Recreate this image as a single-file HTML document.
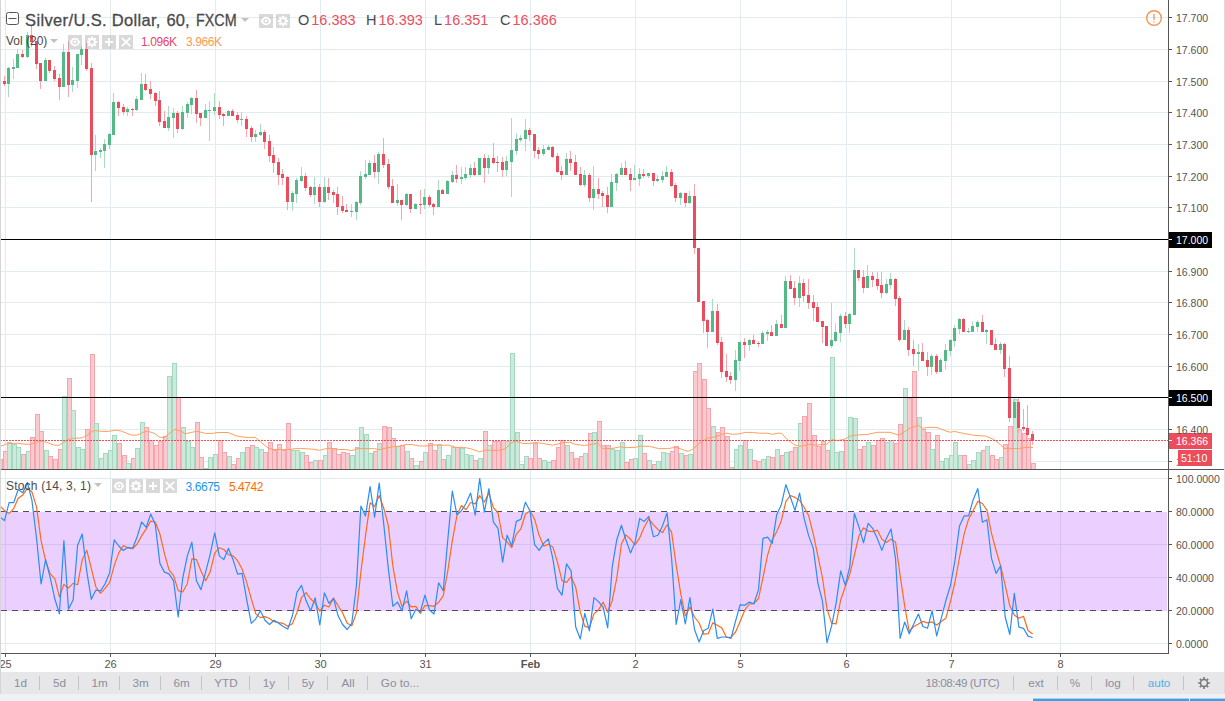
<!DOCTYPE html>
<html><head><meta charset="utf-8"><title>Silver/U.S. Dollar</title>
<style>
html,body{margin:0;padding:0;background:#fff;}
body{width:1225px;height:701px;position:relative;overflow:hidden;font-family:"Liberation Sans",sans-serif;}
.t{position:absolute;white-space:nowrap;line-height:1;}
.ax{font-size:10.5px;color:#555;left:1176px;}
.axw{font-size:10.5px;color:#fff;left:1176px;}
.tm{font-size:11px;color:#555;transform:translateX(-50%);top:659px;}
.tb{font-size:11.7px;color:#8b8e9c;top:676.6px;transform:translateX(-50%);}
.ib{position:absolute;width:14px;height:14px;background:rgba(150,150,150,0.36);}
</style></head><body>

<svg width="1225" height="701" viewBox="0 0 1225 701" style="position:absolute;left:0;top:0" shape-rendering="crispEdges">
<rect x="0" y="0" width="1225" height="701" fill="#fff"/>
<path d="M0 17.5H1168M0 49.5H1168M0 81.5H1168M0 112.5H1168M0 144.5H1168M0 176.5H1168M0 207.5H1168M0 239.5H1168M0 271.5H1168M0 302.5H1168M0 334.5H1168M0 366.5H1168M0 397.5H1168M0 429.5H1168M0 461.5H1168M0 478.5H1168M0 544.5H1168M0 577.5H1168M0 643.5H1168M5.5 0V469M5.5 470V653M110.5 0V469M110.5 470V653M215.5 0V469M215.5 470V653M320.5 0V469M320.5 470V653M425.5 0V469M425.5 470V653M530.5 0V469M530.5 470V653M635.5 0V469M635.5 470V653M740.5 0V469M740.5 470V653M846.5 0V469M846.5 470V653M951.5 0V469M951.5 470V653M1060.5 0V469M1060.5 470V653" stroke="#e1ecf2" stroke-width="1" fill="none"/>
<rect x="0" y="512" width="1167" height="99" fill="#9915ff" fill-opacity="0.2"/>
<path d="M1 459H3V469H1ZM3 451H8V469H3Z" fill="#f9cbcf"/><path d="M1 459.5H2.5V469M3.5 469V451.5H7.5V469" stroke="#f4a5ad" fill="none"/>
<path d="M7 442H12V469H7ZM12 444H17V469H12ZM16 447H21V469H16Z" fill="#cde9dc"/><path d="M7.5 469V442.5H11.5V469M12.5 469V444.5H16.5V469M16.5 469V447.5H20.5V469" stroke="#a4d9bf" fill="none"/>
<path d="M21 454H26V469H21Z" fill="#f9cbcf"/><path d="M21.5 469V454.5H25.5V469" stroke="#f4a5ad" fill="none"/>
<path d="M26 451H31V469H26Z" fill="#cde9dc"/><path d="M26.5 469V451.5H30.5V469" stroke="#a4d9bf" fill="none"/>
<path d="M30 437H35V469H30ZM35 414H40V469H35ZM39 431H44V469H39Z" fill="#f9cbcf"/><path d="M30.5 469V437.5H34.5V469M35.5 469V414.5H39.5V469M39.5 469V431.5H43.5V469" stroke="#f4a5ad" fill="none"/>
<path d="M44 450H49V469H44Z" fill="#cde9dc"/><path d="M44.5 469V450.5H48.5V469" stroke="#a4d9bf" fill="none"/>
<path d="M48 456H53V469H48ZM53 459H58V469H53ZM58 449H63V469H58Z" fill="#f9cbcf"/><path d="M48.5 469V456.5H52.5V469M53.5 469V459.5H57.5V469M58.5 469V449.5H62.5V469" stroke="#f4a5ad" fill="none"/>
<path d="M62 396H67V469H62Z" fill="#cde9dc"/><path d="M62.5 469V396.5H66.5V469" stroke="#a4d9bf" fill="none"/>
<path d="M67 378H72V469H67Z" fill="#f9cbcf"/><path d="M67.5 469V378.5H71.5V469" stroke="#f4a5ad" fill="none"/>
<path d="M71 410H76V469H71ZM76 447H81V469H76ZM80 449H85V469H80Z" fill="#cde9dc"/><path d="M71.5 469V410.5H75.5V469M76.5 469V447.5H80.5V469M80.5 469V449.5H84.5V469" stroke="#a4d9bf" fill="none"/>
<path d="M85 429H90V469H85ZM90 354H95V469H90Z" fill="#f9cbcf"/><path d="M85.5 469V429.5H89.5V469M90.5 469V354.5H94.5V469" stroke="#f4a5ad" fill="none"/>
<path d="M94 423H99V469H94ZM99 458H104V469H99ZM103 453H108V469H103ZM108 450H113V469H108ZM112 435H117V469H112Z" fill="#cde9dc"/><path d="M94.5 469V423.5H98.5V469M99.5 469V458.5H103.5V469M103.5 469V453.5H107.5V469M108.5 469V450.5H112.5V469M112.5 469V435.5H116.5V469" stroke="#a4d9bf" fill="none"/>
<path d="M117 443H122V469H117ZM122 455H127V469H122Z" fill="#f9cbcf"/><path d="M117.5 469V443.5H121.5V469M122.5 469V455.5H126.5V469" stroke="#f4a5ad" fill="none"/>
<path d="M126 463H131V469H126Z" fill="#cde9dc"/><path d="M126.5 469V463.5H130.5V469" stroke="#a4d9bf" fill="none"/>
<path d="M131 458H136V469H131Z" fill="#f9cbcf"/><path d="M131.5 469V458.5H135.5V469" stroke="#f4a5ad" fill="none"/>
<path d="M135 448H140V469H135ZM140 422H145V469H140Z" fill="#cde9dc"/><path d="M135.5 469V448.5H139.5V469M140.5 469V422.5H144.5V469" stroke="#a4d9bf" fill="none"/>
<path d="M144 427H149V469H144ZM149 440H154V469H149ZM154 445H159V469H154ZM158 441H163V469H158ZM163 436H168V469H163Z" fill="#f9cbcf"/><path d="M144.5 469V427.5H148.5V469M149.5 469V440.5H153.5V469M154.5 469V445.5H158.5V469M158.5 469V441.5H162.5V469M163.5 469V436.5H167.5V469" stroke="#f4a5ad" fill="none"/>
<path d="M167 376H172V469H167ZM172 363H177V469H172Z" fill="#cde9dc"/><path d="M167.5 469V376.5H171.5V469M172.5 469V363.5H176.5V469" stroke="#a4d9bf" fill="none"/>
<path d="M176 397H181V469H176Z" fill="#f9cbcf"/><path d="M176.5 469V397.5H180.5V469" stroke="#f4a5ad" fill="none"/>
<path d="M181 427H186V469H181ZM186 441H191V469H186ZM190 447H195V469H190Z" fill="#cde9dc"/><path d="M181.5 469V427.5H185.5V469M186.5 469V441.5H190.5V469M190.5 469V447.5H194.5V469" stroke="#a4d9bf" fill="none"/>
<path d="M195 422H200V469H195ZM199 457H204V469H199Z" fill="#f9cbcf"/><path d="M195.5 469V422.5H199.5V469M199.5 469V457.5H203.5V469" stroke="#f4a5ad" fill="none"/>
<path d="M204 468H209V469H204ZM208 457H213V469H208ZM213 454H218V469H213Z" fill="#cde9dc"/><path d="M204.5 469V468.5H208.5V469M208.5 469V457.5H212.5V469M213.5 469V454.5H217.5V469" stroke="#a4d9bf" fill="none"/>
<path d="M218 440H223V469H218ZM222 452H227V469H222Z" fill="#f9cbcf"/><path d="M218.5 469V440.5H222.5V469M222.5 469V452.5H226.5V469" stroke="#f4a5ad" fill="none"/>
<path d="M227 456H232V469H227Z" fill="#cde9dc"/><path d="M227.5 469V456.5H231.5V469" stroke="#a4d9bf" fill="none"/>
<path d="M231 464H236V469H231ZM236 458H241V469H236Z" fill="#f9cbcf"/><path d="M231.5 469V464.5H235.5V469M236.5 469V458.5H240.5V469" stroke="#f4a5ad" fill="none"/>
<path d="M240 452H245V469H240Z" fill="#cde9dc"/><path d="M240.5 469V452.5H244.5V469" stroke="#a4d9bf" fill="none"/>
<path d="M245 447H250V469H245ZM250 445H255V469H250Z" fill="#f9cbcf"/><path d="M245.5 469V447.5H249.5V469M250.5 469V445.5H254.5V469" stroke="#f4a5ad" fill="none"/>
<path d="M254 447H259V469H254ZM259 449H264V469H259Z" fill="#cde9dc"/><path d="M254.5 469V447.5H258.5V469M259.5 469V449.5H263.5V469" stroke="#a4d9bf" fill="none"/>
<path d="M263 452H268V469H263ZM268 442H273V469H268ZM272 450H277V469H272ZM277 444H282V469H277ZM281 450H286V469H281ZM286 423H291V469H286Z" fill="#f9cbcf"/><path d="M263.5 469V452.5H267.5V469M268.5 469V442.5H272.5V469M272.5 469V450.5H276.5V469M277.5 469V444.5H281.5V469M281.5 469V450.5H285.5V469M286.5 469V423.5H290.5V469" stroke="#f4a5ad" fill="none"/>
<path d="M291 450H296V469H291ZM295 450H300V469H295ZM300 452H305V469H300Z" fill="#cde9dc"/><path d="M291.5 469V450.5H295.5V469M295.5 469V450.5H299.5V469M300.5 469V452.5H304.5V469" stroke="#a4d9bf" fill="none"/>
<path d="M304 455H309V469H304ZM309 462H314V469H309Z" fill="#f9cbcf"/><path d="M304.5 469V455.5H308.5V469M309.5 469V462.5H313.5V469" stroke="#f4a5ad" fill="none"/>
<path d="M313 460H318V469H313Z" fill="#cde9dc"/><path d="M313.5 469V460.5H317.5V469" stroke="#a4d9bf" fill="none"/>
<path d="M318 460H323V469H318Z" fill="#f9cbcf"/><path d="M318.5 469V460.5H322.5V469" stroke="#f4a5ad" fill="none"/>
<path d="M323 455H328V469H323Z" fill="#cde9dc"/><path d="M323.5 469V455.5H327.5V469" stroke="#a4d9bf" fill="none"/>
<path d="M327 442H332V469H327ZM332 448H337V469H332ZM336 454H341V469H336ZM341 452H346V469H341ZM345 453H350V469H345Z" fill="#f9cbcf"/><path d="M327.5 469V442.5H331.5V469M332.5 469V448.5H336.5V469M336.5 469V454.5H340.5V469M341.5 469V452.5H345.5V469M345.5 469V453.5H349.5V469" stroke="#f4a5ad" fill="none"/>
<path d="M350 455H355V469H350ZM355 447H360V469H355ZM359 427H364V469H359ZM364 434H369V469H364ZM368 453H373V469H368Z" fill="#cde9dc"/><path d="M350.5 469V455.5H354.5V469M355.5 469V447.5H359.5V469M359.5 469V427.5H363.5V469M364.5 469V434.5H368.5V469M368.5 469V453.5H372.5V469" stroke="#a4d9bf" fill="none"/>
<path d="M373 451H378V469H373Z" fill="#f9cbcf"/><path d="M373.5 469V451.5H377.5V469" stroke="#f4a5ad" fill="none"/>
<path d="M377 443H382V469H377Z" fill="#cde9dc"/><path d="M377.5 469V443.5H381.5V469" stroke="#a4d9bf" fill="none"/>
<path d="M382 426H387V469H382ZM387 427H392V469H387ZM391 438H396V469H391Z" fill="#f9cbcf"/><path d="M382.5 469V426.5H386.5V469M387.5 469V427.5H391.5V469M391.5 469V438.5H395.5V469" stroke="#f4a5ad" fill="none"/>
<path d="M396 446H401V469H396Z" fill="#cde9dc"/><path d="M396.5 469V446.5H400.5V469" stroke="#a4d9bf" fill="none"/>
<path d="M400 445H405V469H400Z" fill="#f9cbcf"/><path d="M400.5 469V445.5H404.5V469" stroke="#f4a5ad" fill="none"/>
<path d="M405 451H410V469H405Z" fill="#cde9dc"/><path d="M405.5 469V451.5H409.5V469" stroke="#a4d9bf" fill="none"/>
<path d="M409 458H414V469H409Z" fill="#f9cbcf"/><path d="M409.5 469V458.5H413.5V469" stroke="#f4a5ad" fill="none"/>
<path d="M414 465H419V469H414Z" fill="#cde9dc"/><path d="M414.5 469V465.5H418.5V469" stroke="#a4d9bf" fill="none"/>
<path d="M419 461H424V469H419Z" fill="#f9cbcf"/><path d="M419.5 469V461.5H423.5V469" stroke="#f4a5ad" fill="none"/>
<path d="M423 452H428V469H423Z" fill="#cde9dc"/><path d="M423.5 469V452.5H427.5V469" stroke="#a4d9bf" fill="none"/>
<path d="M428 443H433V469H428ZM432 450H437V469H432Z" fill="#f9cbcf"/><path d="M428.5 469V443.5H432.5V469M432.5 469V450.5H436.5V469" stroke="#f4a5ad" fill="none"/>
<path d="M437 444H442V469H437Z" fill="#cde9dc"/><path d="M437.5 469V444.5H441.5V469" stroke="#a4d9bf" fill="none"/>
<path d="M441 459H446V469H441Z" fill="#f9cbcf"/><path d="M441.5 469V459.5H445.5V469" stroke="#f4a5ad" fill="none"/>
<path d="M446 455H451V469H446ZM451 447H456V469H451Z" fill="#cde9dc"/><path d="M446.5 469V455.5H450.5V469M451.5 469V447.5H455.5V469" stroke="#a4d9bf" fill="none"/>
<path d="M455 447H460V469H455Z" fill="#f9cbcf"/><path d="M455.5 469V447.5H459.5V469" stroke="#f4a5ad" fill="none"/>
<path d="M460 448H465V469H460ZM464 454H469V469H464ZM469 455H474V469H469Z" fill="#cde9dc"/><path d="M460.5 469V448.5H464.5V469M464.5 469V454.5H468.5V469M469.5 469V455.5H473.5V469" stroke="#a4d9bf" fill="none"/>
<path d="M473 460H478V469H473Z" fill="#f9cbcf"/><path d="M473.5 469V460.5H477.5V469" stroke="#f4a5ad" fill="none"/>
<path d="M478 458H483V469H478Z" fill="#cde9dc"/><path d="M478.5 469V458.5H482.5V469" stroke="#a4d9bf" fill="none"/>
<path d="M483 431H488V469H483Z" fill="#f9cbcf"/><path d="M483.5 469V431.5H487.5V469" stroke="#f4a5ad" fill="none"/>
<path d="M487 445H492V469H487Z" fill="#cde9dc"/><path d="M487.5 469V445.5H491.5V469" stroke="#a4d9bf" fill="none"/>
<path d="M492 441H497V469H492ZM496 441H501V469H496ZM501 440H506V469H501Z" fill="#f9cbcf"/><path d="M492.5 469V441.5H496.5V469M496.5 469V441.5H500.5V469M501.5 469V440.5H505.5V469" stroke="#f4a5ad" fill="none"/>
<path d="M505 441H510V469H505ZM510 353H515V469H510ZM515 432H520V469H515ZM519 464H524V469H519ZM524 456H529V469H524Z" fill="#cde9dc"/><path d="M505.5 469V441.5H509.5V469M510.5 469V353.5H514.5V469M515.5 469V432.5H519.5V469M519.5 469V464.5H523.5V469M524.5 469V456.5H528.5V469" stroke="#a4d9bf" fill="none"/>
<path d="M528 458H533V469H528ZM533 443H538V469H533ZM537 458H542V469H537Z" fill="#f9cbcf"/><path d="M528.5 469V458.5H532.5V469M533.5 469V443.5H537.5V469M537.5 469V458.5H541.5V469" stroke="#f4a5ad" fill="none"/>
<path d="M542 460H547V469H542ZM547 462H552V469H547Z" fill="#cde9dc"/><path d="M542.5 469V460.5H546.5V469M547.5 469V462.5H551.5V469" stroke="#a4d9bf" fill="none"/>
<path d="M551 460H556V469H551ZM556 447H561V469H556ZM560 440H565V469H560Z" fill="#f9cbcf"/><path d="M551.5 469V460.5H555.5V469M556.5 469V447.5H560.5V469M560.5 469V440.5H564.5V469" stroke="#f4a5ad" fill="none"/>
<path d="M565 445H570V469H565Z" fill="#cde9dc"/><path d="M565.5 469V445.5H569.5V469" stroke="#a4d9bf" fill="none"/>
<path d="M569 452H574V469H569ZM574 458H579V469H574ZM579 456H584V469H579Z" fill="#f9cbcf"/><path d="M569.5 469V452.5H573.5V469M574.5 469V458.5H578.5V469M579.5 469V456.5H583.5V469" stroke="#f4a5ad" fill="none"/>
<path d="M583 453H588V469H583Z" fill="#cde9dc"/><path d="M583.5 469V453.5H587.5V469" stroke="#a4d9bf" fill="none"/>
<path d="M588 433H593V469H588Z" fill="#f9cbcf"/><path d="M588.5 469V433.5H592.5V469" stroke="#f4a5ad" fill="none"/>
<path d="M592 432H597V469H592Z" fill="#cde9dc"/><path d="M592.5 469V432.5H596.5V469" stroke="#a4d9bf" fill="none"/>
<path d="M597 421H602V469H597ZM601 445H606V469H601ZM606 445H611V469H606Z" fill="#f9cbcf"/><path d="M597.5 469V421.5H601.5V469M601.5 469V445.5H605.5V469M606.5 469V445.5H610.5V469" stroke="#f4a5ad" fill="none"/>
<path d="M610 449H615V469H610ZM615 450H620V469H615ZM620 442H625V469H620Z" fill="#cde9dc"/><path d="M610.5 469V449.5H614.5V469M615.5 469V450.5H619.5V469M620.5 469V442.5H624.5V469" stroke="#a4d9bf" fill="none"/>
<path d="M624 462H629V469H624ZM629 459H634V469H629Z" fill="#f9cbcf"/><path d="M624.5 469V462.5H628.5V469M629.5 469V459.5H633.5V469" stroke="#f4a5ad" fill="none"/>
<path d="M633 458H638V469H633ZM638 435H643V469H638Z" fill="#cde9dc"/><path d="M633.5 469V458.5H637.5V469M638.5 469V435.5H642.5V469" stroke="#a4d9bf" fill="none"/>
<path d="M642 453H647V469H642Z" fill="#f9cbcf"/><path d="M642.5 469V453.5H646.5V469" stroke="#f4a5ad" fill="none"/>
<path d="M647 460H652V469H647Z" fill="#cde9dc"/><path d="M647.5 469V460.5H651.5V469" stroke="#a4d9bf" fill="none"/>
<path d="M652 464H657V469H652Z" fill="#f9cbcf"/><path d="M652.5 469V464.5H656.5V469" stroke="#f4a5ad" fill="none"/>
<path d="M656 461H661V469H656ZM661 452H666V469H661ZM665 453H670V469H665Z" fill="#cde9dc"/><path d="M656.5 469V461.5H660.5V469M661.5 469V452.5H665.5V469M665.5 469V453.5H669.5V469" stroke="#a4d9bf" fill="none"/>
<path d="M670 451H675V469H670ZM674 446H679V469H674Z" fill="#f9cbcf"/><path d="M670.5 469V451.5H674.5V469M674.5 469V446.5H678.5V469" stroke="#f4a5ad" fill="none"/>
<path d="M679 453H684V469H679Z" fill="#cde9dc"/><path d="M679.5 469V453.5H683.5V469" stroke="#a4d9bf" fill="none"/>
<path d="M684 455H689V469H684Z" fill="#f9cbcf"/><path d="M684.5 469V455.5H688.5V469" stroke="#f4a5ad" fill="none"/>
<path d="M688 454H693V469H688Z" fill="#cde9dc"/><path d="M688.5 469V454.5H692.5V469" stroke="#a4d9bf" fill="none"/>
<path d="M693 371H698V469H693ZM697 363H702V469H697ZM702 379H707V469H702ZM706 408H711V469H706Z" fill="#f9cbcf"/><path d="M693.5 469V371.5H697.5V469M697.5 469V363.5H701.5V469M702.5 469V379.5H706.5V469M706.5 469V408.5H710.5V469" stroke="#f4a5ad" fill="none"/>
<path d="M711 426H716V469H711Z" fill="#cde9dc"/><path d="M711.5 469V426.5H715.5V469" stroke="#a4d9bf" fill="none"/>
<path d="M716 432H721V469H716ZM720 427H725V469H720ZM725 436H730V469H725ZM729 467H734V469H729Z" fill="#f9cbcf"/><path d="M716.5 469V432.5H720.5V469M720.5 469V427.5H724.5V469M725.5 469V436.5H729.5V469M729.5 469V467.5H733.5V469" stroke="#f4a5ad" fill="none"/>
<path d="M734 449H739V469H734ZM738 445H743V469H738Z" fill="#cde9dc"/><path d="M734.5 469V449.5H738.5V469M738.5 469V445.5H742.5V469" stroke="#a4d9bf" fill="none"/>
<path d="M743 440H748V469H743Z" fill="#f9cbcf"/><path d="M743.5 469V440.5H747.5V469" stroke="#f4a5ad" fill="none"/>
<path d="M748 449H753V469H748Z" fill="#cde9dc"/><path d="M748.5 469V449.5H752.5V469" stroke="#a4d9bf" fill="none"/>
<path d="M752 460H757V469H752ZM757 461H762V469H757Z" fill="#f9cbcf"/><path d="M752.5 469V460.5H756.5V469M757.5 469V461.5H761.5V469" stroke="#f4a5ad" fill="none"/>
<path d="M761 459H766V469H761ZM766 456H771V469H766Z" fill="#cde9dc"/><path d="M761.5 469V459.5H765.5V469M766.5 469V456.5H770.5V469" stroke="#a4d9bf" fill="none"/>
<path d="M770 457H775V469H770Z" fill="#f9cbcf"/><path d="M770.5 469V457.5H774.5V469" stroke="#f4a5ad" fill="none"/>
<path d="M775 449H780V469H775Z" fill="#cde9dc"/><path d="M775.5 469V449.5H779.5V469" stroke="#a4d9bf" fill="none"/>
<path d="M780 455H785V469H780Z" fill="#f9cbcf"/><path d="M780.5 469V455.5H784.5V469" stroke="#f4a5ad" fill="none"/>
<path d="M784 452H789V469H784Z" fill="#cde9dc"/><path d="M784.5 469V452.5H788.5V469" stroke="#a4d9bf" fill="none"/>
<path d="M789 451H794V469H789ZM793 447H798V469H793Z" fill="#f9cbcf"/><path d="M789.5 469V451.5H793.5V469M793.5 469V447.5H797.5V469" stroke="#f4a5ad" fill="none"/>
<path d="M798 423H803V469H798Z" fill="#cde9dc"/><path d="M798.5 469V423.5H802.5V469" stroke="#a4d9bf" fill="none"/>
<path d="M802 416H807V469H802ZM807 403H812V469H807ZM812 435H817V469H812ZM816 446H821V469H816ZM821 441H826V469H821ZM825 450H830V469H825Z" fill="#f9cbcf"/><path d="M802.5 469V416.5H806.5V469M807.5 469V403.5H811.5V469M812.5 469V435.5H816.5V469M816.5 469V446.5H820.5V469M821.5 469V441.5H825.5V469M825.5 469V450.5H829.5V469" stroke="#f4a5ad" fill="none"/>
<path d="M830 357H835V469H830ZM834 452H839V469H834ZM839 451H844V469H839Z" fill="#cde9dc"/><path d="M830.5 469V357.5H834.5V469M834.5 469V452.5H838.5V469M839.5 469V451.5H843.5V469" stroke="#a4d9bf" fill="none"/>
<path d="M844 440H849V469H844Z" fill="#f9cbcf"/><path d="M844.5 469V440.5H848.5V469" stroke="#f4a5ad" fill="none"/>
<path d="M848 417H853V469H848ZM853 418H858V469H853Z" fill="#cde9dc"/><path d="M848.5 469V417.5H852.5V469M853.5 469V418.5H857.5V469" stroke="#a4d9bf" fill="none"/>
<path d="M857 449H862V469H857ZM862 446H867V469H862Z" fill="#f9cbcf"/><path d="M857.5 469V449.5H861.5V469M862.5 469V446.5H866.5V469" stroke="#f4a5ad" fill="none"/>
<path d="M866 442H871V469H866Z" fill="#cde9dc"/><path d="M866.5 469V442.5H870.5V469" stroke="#a4d9bf" fill="none"/>
<path d="M871 445H876V469H871ZM876 440H881V469H876ZM880 438H885V469H880Z" fill="#f9cbcf"/><path d="M871.5 469V445.5H875.5V469M876.5 469V440.5H880.5V469M880.5 469V438.5H884.5V469" stroke="#f4a5ad" fill="none"/>
<path d="M885 442H890V469H885ZM889 440H894V469H889Z" fill="#cde9dc"/><path d="M885.5 469V442.5H889.5V469M889.5 469V440.5H893.5V469" stroke="#a4d9bf" fill="none"/>
<path d="M894 443H899V469H894ZM898 424H903V469H898Z" fill="#f9cbcf"/><path d="M894.5 469V443.5H898.5V469M898.5 469V424.5H902.5V469" stroke="#f4a5ad" fill="none"/>
<path d="M903 388H908V469H903Z" fill="#cde9dc"/><path d="M903.5 469V388.5H907.5V469" stroke="#a4d9bf" fill="none"/>
<path d="M907 398H912V469H907ZM912 371H917V469H912Z" fill="#f9cbcf"/><path d="M907.5 469V398.5H911.5V469M912.5 469V371.5H916.5V469" stroke="#f4a5ad" fill="none"/>
<path d="M917 417H922V469H917Z" fill="#cde9dc"/><path d="M917.5 469V417.5H921.5V469" stroke="#a4d9bf" fill="none"/>
<path d="M921 429H926V469H921ZM926 432H931V469H926Z" fill="#f9cbcf"/><path d="M921.5 469V429.5H925.5V469M926.5 469V432.5H930.5V469" stroke="#f4a5ad" fill="none"/>
<path d="M930 449H935V469H930Z" fill="#cde9dc"/><path d="M930.5 469V449.5H934.5V469" stroke="#a4d9bf" fill="none"/>
<path d="M935 435H940V469H935Z" fill="#f9cbcf"/><path d="M935.5 469V435.5H939.5V469" stroke="#f4a5ad" fill="none"/>
<path d="M939 461H944V469H939ZM944 458H949V469H944ZM949 455H954V469H949ZM953 442H958V469H953ZM958 455H963V469H958Z" fill="#cde9dc"/><path d="M939.5 469V461.5H943.5V469M944.5 469V458.5H948.5V469M949.5 469V455.5H953.5V469M953.5 469V442.5H957.5V469M958.5 469V455.5H962.5V469" stroke="#a4d9bf" fill="none"/>
<path d="M962 455H967V469H962Z" fill="#f9cbcf"/><path d="M962.5 469V455.5H966.5V469" stroke="#f4a5ad" fill="none"/>
<path d="M967 464H972V469H967ZM971 460H976V469H971ZM976 452H981V469H976Z" fill="#cde9dc"/><path d="M967.5 469V464.5H971.5V469M971.5 469V460.5H975.5V469M976.5 469V452.5H980.5V469" stroke="#a4d9bf" fill="none"/>
<path d="M981 450H986V469H981Z" fill="#f9cbcf"/><path d="M981.5 469V450.5H985.5V469" stroke="#f4a5ad" fill="none"/>
<path d="M985 446H990V469H985Z" fill="#cde9dc"/><path d="M985.5 469V446.5H989.5V469" stroke="#a4d9bf" fill="none"/>
<path d="M990 455H995V469H990ZM994 459H999V469H994Z" fill="#f9cbcf"/><path d="M990.5 469V455.5H994.5V469M994.5 469V459.5H998.5V469" stroke="#f4a5ad" fill="none"/>
<path d="M999 457H1004V469H999Z" fill="#cde9dc"/><path d="M999.5 469V457.5H1003.5V469" stroke="#a4d9bf" fill="none"/>
<path d="M1003 444H1008V469H1003ZM1008 426H1013V469H1008Z" fill="#f9cbcf"/><path d="M1003.5 469V444.5H1007.5V469M1008.5 469V426.5H1012.5V469" stroke="#f4a5ad" fill="none"/>
<path d="M1013 399H1018V469H1013Z" fill="#cde9dc"/><path d="M1013.5 469V399.5H1017.5V469" stroke="#a4d9bf" fill="none"/>
<path d="M1017 429H1022V469H1017ZM1022 433H1027V469H1022ZM1026 438H1031V469H1026ZM1031 463H1036V469H1031Z" fill="#f9cbcf"/><path d="M1017.5 469V429.5H1021.5V469M1022.5 469V433.5H1026.5V469M1026.5 469V438.5H1030.5V469M1031.5 469V463.5H1035.5V469" stroke="#f4a5ad" fill="none"/>
<polyline points="0.9,446.1 7.2,443.7 16.3,443.2 23.6,444.1 30.8,444.3 36.2,442.3 42.6,441.0 48.9,443.2 54.3,445.2 58.9,445.2 63.4,442.8 67.9,439.6 72.5,438.3 81.5,437.9 87.0,435.6 91.5,431.6 95.1,430.5 101.4,431.4 108.7,431.4 115.9,430.1 121.4,431.1 126.8,433.4 132.2,435.2 137.7,435.0 143.1,432.3 147.6,431.2 154.0,433.2 159.4,437.0 163.9,437.9 168.5,434.1 175.0,429.2 180.9,431.1 185.4,433.8 191.7,432.3 197.2,431.2 205.3,433.4 212.6,433.4 218.0,432.5 228.0,432.5 237.0,436.1 246.1,437.4 255.1,437.4 260.6,441.9 267.8,447.9 273.3,449.5 282.3,449.5 290.5,449.5 295.0,448.6 304.1,448.6 313.1,449.2 319.5,450.3 327.6,448.3 333.0,448.6 338.5,449.5 345.0,449.5 351.8,450.6 358.1,448.6 367.2,448.6 374.4,448.6 378.9,449.7 385.3,448.3 392.5,446.8 399.8,446.1 407.0,444.3 412.5,444.6 419.7,446.1 427.0,445.9 432.4,445.0 441.4,445.2 448.7,445.2 455.9,447.4 463.2,447.4 470.4,448.6 479.5,451.9 484.9,450.3 492.2,450.3 499.4,450.3 505.8,448.6 510.0,443.7 515.0,441.0 522.7,443.4 529.9,443.7 534.5,442.5 542.6,443.4 552.6,445.2 562.5,442.8 569.8,442.3 575.2,444.3 584.3,445.5 591.5,444.3 597.9,443.4 602.4,448.3 611.4,448.6 620.5,446.8 625.9,447.7 635.0,447.4 640.4,446.1 649.5,446.4 658.6,448.6 667.6,448.6 674.9,447.4 680.0,448.6 685.0,450.6 688.2,451.3 692.7,449.2 699.9,442.8 707.2,438.3 714.4,437.0 721.7,434.3 727.1,433.2 732.5,434.3 739.8,433.8 745.2,432.3 752.5,432.5 759.7,433.2 767.0,433.2 772.4,434.3 777.8,433.2 781.4,433.2 786.9,439.2 794.1,444.6 799.6,446.4 805.0,445.5 808.6,444.3 815.9,445.2 823.1,444.3 826.7,444.3 832.2,439.6 837.6,440.5 844.9,439.2 850.0,436.1 855.0,435.2 868.1,434.3 877.2,432.3 889.9,432.3 898.9,435.2 909.8,428.3 918.5,425.3 922.5,428.3 927.9,427.4 937.0,427.4 946.0,431.1 950.5,432.3 954.2,431.4 962.3,433.2 973.2,435.2 985.9,436.1 993.1,439.2 1000.4,444.6 1004.0,448.3 1009.4,448.6 1018.5,448.6 1025.0,447.5 1033.0,447.4 1033.0,447.4" fill="none" stroke="#ff9f5c" stroke-width="1" shape-rendering="auto" stroke-linejoin="round"/>
<path d="M8 67h1V97h-1ZM13 59h1V79h-1ZM17 49h1V68h-1ZM27 32h1V58h-1ZM45 58h1V81h-1ZM63 44h1V87h-1ZM72 67h1V92h-1ZM77 54h1V88h-1ZM81 46h1V65h-1ZM95 135h1V171h-1ZM100 148h1V158h-1ZM104 139h1V168h-1ZM109 133h1V149h-1ZM113 93h1V135h-1ZM127 107h1V116h-1ZM136 96h1V111h-1ZM141 73h1V100h-1ZM168 106h1V131h-1ZM173 108h1V138h-1ZM182 106h1V130h-1ZM187 102h1V118h-1ZM191 97h1V114h-1ZM205 104h1V118h-1ZM209 101h1V141h-1ZM214 93h1V115h-1ZM228 110h1V116h-1ZM241 112h1V126h-1ZM255 130h1V142h-1ZM260 124h1V136h-1ZM292 191h1V211h-1ZM296 178h1V203h-1ZM301 167h1V182h-1ZM314 177h1V204h-1ZM324 177h1V203h-1ZM351 204h1V217h-1ZM356 201h1V220h-1ZM360 171h1V205h-1ZM365 160h1V179h-1ZM369 160h1V175h-1ZM378 152h1V184h-1ZM397 184h1V206h-1ZM406 193h1V206h-1ZM415 203h1V209h-1ZM424 189h1V209h-1ZM438 180h1V207h-1ZM447 180h1V194h-1ZM452 171h1V183h-1ZM461 167h1V184h-1ZM465 167h1V180h-1ZM470 164h1V178h-1ZM479 158h1V175h-1ZM488 155h1V174h-1ZM506 156h1V176h-1ZM511 118h1V197h-1ZM516 133h1V155h-1ZM520 135h1V142h-1ZM525 119h1V151h-1ZM543 145h1V156h-1ZM548 145h1V150h-1ZM566 153h1V175h-1ZM584 170h1V187h-1ZM593 166h1V210h-1ZM611 174h1V207h-1ZM616 173h1V191h-1ZM621 163h1V175h-1ZM634 165h1V180h-1ZM639 168h1V186h-1ZM648 173h1V178h-1ZM657 175h1V182h-1ZM662 171h1V183h-1ZM666 166h1V177h-1ZM680 192h1V205h-1ZM689 191h1V204h-1ZM712 299h1V332h-1ZM735 350h1V391h-1ZM739 342h1V371h-1ZM749 339h1V351h-1ZM762 331h1V344h-1ZM767 330h1V341h-1ZM776 320h1V336h-1ZM785 276h1V328h-1ZM799 276h1V307h-1ZM831 303h1V348h-1ZM835 323h1V342h-1ZM840 314h1V342h-1ZM849 313h1V333h-1ZM854 248h1V315h-1ZM867 265h1V288h-1ZM886 279h1V294h-1ZM890 273h1V289h-1ZM904 320h1V340h-1ZM918 344h1V371h-1ZM931 354h1V375h-1ZM940 358h1V372h-1ZM945 344h1V370h-1ZM950 339h1V356h-1ZM954 325h1V347h-1ZM959 318h1V334h-1ZM968 328h1V333h-1ZM972 321h1V332h-1ZM977 320h1V332h-1ZM986 329h1V344h-1ZM1000 342h1V354h-1ZM1014 398h1V418h-1Z" fill="#a9dcc3"/>
<path d="M4 76h1V86h-1ZM22 50h1V58h-1ZM31 25h1V47h-1ZM36 41h1V69h-1ZM40 63h1V89h-1ZM49 60h1V73h-1ZM54 66h1V81h-1ZM59 74h1V100h-1ZM68 41h1V97h-1ZM86 41h1V71h-1ZM91 63h1V202h-1ZM118 101h1V116h-1ZM123 104h1V115h-1ZM132 108h1V116h-1ZM145 74h1V91h-1ZM150 81h1V99h-1ZM155 92h1V106h-1ZM159 91h1V126h-1ZM164 111h1V128h-1ZM177 111h1V133h-1ZM196 90h1V123h-1ZM200 113h1V126h-1ZM219 101h1V119h-1ZM223 113h1V126h-1ZM232 109h1V116h-1ZM237 112h1V123h-1ZM246 116h1V137h-1ZM251 126h1V142h-1ZM264 130h1V149h-1ZM269 135h1V162h-1ZM273 147h1V173h-1ZM278 158h1V185h-1ZM282 169h1V185h-1ZM287 176h1V210h-1ZM305 173h1V191h-1ZM310 186h1V197h-1ZM319 184h1V207h-1ZM328 178h1V200h-1ZM333 190h1V203h-1ZM337 187h1V215h-1ZM342 196h1V213h-1ZM346 204h1V212h-1ZM374 155h1V178h-1ZM383 138h1V168h-1ZM388 159h1V189h-1ZM392 179h1V203h-1ZM401 200h1V220h-1ZM410 194h1V213h-1ZM420 190h1V214h-1ZM429 195h1V207h-1ZM433 203h1V215h-1ZM442 189h1V194h-1ZM456 165h1V183h-1ZM474 162h1V176h-1ZM484 154h1V183h-1ZM493 143h1V164h-1ZM497 156h1V172h-1ZM502 157h1V177h-1ZM529 128h1V141h-1ZM534 134h1V158h-1ZM538 147h1V159h-1ZM552 146h1V158h-1ZM557 153h1V173h-1ZM561 166h1V180h-1ZM570 151h1V171h-1ZM575 155h1V175h-1ZM580 167h1V186h-1ZM589 173h1V202h-1ZM598 178h1V199h-1ZM602 191h1V207h-1ZM607 187h1V213h-1ZM625 161h1V175h-1ZM630 168h1V191h-1ZM643 169h1V178h-1ZM653 173h1V186h-1ZM671 169h1V187h-1ZM675 183h1V202h-1ZM685 193h1V207h-1ZM694 184h1V254h-1ZM698 248h1V302h-1ZM703 301h1V333h-1ZM707 319h1V348h-1ZM717 304h1V345h-1ZM721 337h1V378h-1ZM726 354h1V382h-1ZM730 372h1V384h-1ZM744 338h1V358h-1ZM753 335h1V344h-1ZM758 341h1V347h-1ZM771 325h1V336h-1ZM781 315h1V328h-1ZM790 275h1V289h-1ZM794 281h1V305h-1ZM803 279h1V302h-1ZM808 279h1V309h-1ZM813 295h1V321h-1ZM817 302h1V322h-1ZM822 321h1V343h-1ZM826 326h1V346h-1ZM845 312h1V328h-1ZM858 270h1V281h-1ZM863 270h1V293h-1ZM872 272h1V287h-1ZM877 272h1V290h-1ZM881 272h1V298h-1ZM895 278h1V306h-1ZM899 296h1V342h-1ZM908 327h1V356h-1ZM913 340h1V366h-1ZM922 343h1V361h-1ZM927 352h1V376h-1ZM936 354h1V374h-1ZM963 318h1V332h-1ZM982 315h1V332h-1ZM991 330h1V345h-1ZM995 338h1V350h-1ZM1004 343h1V377h-1ZM1009 356h1V422h-1ZM1018 398h1V433h-1ZM1023 409h1V431h-1ZM1027 405h1V437h-1ZM1032 431h1V445h-1Z" fill="#f5a6ae"/>
<path d="M7 68h3V84h-3ZM12 67h3V69h-3ZM16 54h3V68h-3ZM26 35h3V57h-3ZM44 60h3V81h-3ZM62 52h3V87h-3ZM71 80h3V85h-3ZM76 54h3V81h-3ZM80 49h3V55h-3ZM94 151h3V155h-3ZM99 150h3V152h-3ZM103 144h3V151h-3ZM108 134h3V145h-3ZM112 102h3V135h-3ZM126 109h3V112h-3ZM135 99h3V110h-3ZM140 84h3V100h-3ZM167 117h3V128h-3ZM172 113h3V118h-3ZM181 112h3V129h-3ZM186 104h3V113h-3ZM190 98h3V105h-3ZM204 110h3V118h-3ZM208 110h3V111h-3ZM213 107h3V111h-3ZM227 111h3V116h-3ZM240 119h3V120h-3ZM254 134h3V137h-3ZM259 132h3V135h-3ZM291 193h3V202h-3ZM295 180h3V194h-3ZM300 176h3V181h-3ZM313 187h3V195h-3ZM323 187h3V202h-3ZM350 211h3V212h-3ZM355 202h3V212h-3ZM359 176h3V203h-3ZM364 174h3V177h-3ZM368 163h3V175h-3ZM377 154h3V172h-3ZM396 200h3V203h-3ZM405 194h3V205h-3ZM414 204h3V209h-3ZM423 197h3V205h-3ZM437 190h3V207h-3ZM446 181h3V194h-3ZM451 175h3V182h-3ZM460 177h3V179h-3ZM464 174h3V178h-3ZM469 168h3V175h-3ZM478 158h3V175h-3ZM487 158h3V168h-3ZM505 161h3V170h-3ZM510 150h3V162h-3ZM515 139h3V151h-3ZM519 138h3V140h-3ZM524 130h3V139h-3ZM542 149h3V154h-3ZM547 147h3V150h-3ZM565 159h3V175h-3ZM583 175h3V185h-3ZM592 189h3V198h-3ZM610 182h3V207h-3ZM615 174h3V183h-3ZM620 168h3V175h-3ZM633 178h3V180h-3ZM638 174h3V179h-3ZM647 173h3V176h-3ZM656 179h3V181h-3ZM661 176h3V180h-3ZM665 172h3V177h-3ZM679 193h3V198h-3ZM688 196h3V203h-3ZM711 311h3V332h-3ZM734 360h3V380h-3ZM738 342h3V361h-3ZM748 340h3V345h-3ZM761 333h3V344h-3ZM766 332h3V334h-3ZM775 324h3V336h-3ZM784 281h3V328h-3ZM798 283h3V298h-3ZM830 340h3V346h-3ZM834 332h3V341h-3ZM839 316h3V333h-3ZM848 314h3V324h-3ZM853 270h3V315h-3ZM866 276h3V288h-3ZM885 284h3V293h-3ZM889 279h3V285h-3ZM903 330h3V340h-3ZM917 352h3V354h-3ZM930 356h3V367h-3ZM939 360h3V372h-3ZM944 350h3V361h-3ZM949 340h3V351h-3ZM953 328h3V341h-3ZM958 319h3V329h-3ZM967 331h3V332h-3ZM971 326h3V332h-3ZM976 322h3V327h-3ZM985 330h3V332h-3ZM999 344h3V350h-3ZM1013 402h3V418h-3Z" fill="#53b987"/>
<path d="M3 81h3V84h-3ZM21 54h3V57h-3ZM30 35h3V42h-3ZM35 41h3V64h-3ZM39 63h3V81h-3ZM48 60h3V71h-3ZM53 70h3V79h-3ZM58 78h3V87h-3ZM67 52h3V85h-3ZM85 49h3V69h-3ZM90 68h3V155h-3ZM117 102h3V108h-3ZM122 107h3V112h-3ZM131 109h3V110h-3ZM144 84h3V90h-3ZM149 89h3V94h-3ZM154 93h3V101h-3ZM158 100h3V122h-3ZM163 121h3V128h-3ZM176 113h3V129h-3ZM195 98h3V114h-3ZM199 113h3V118h-3ZM218 107h3V115h-3ZM222 114h3V116h-3ZM231 111h3V116h-3ZM236 115h3V120h-3ZM245 119h3V129h-3ZM250 128h3V137h-3ZM263 132h3V142h-3ZM268 141h3V156h-3ZM272 155h3V163h-3ZM277 162h3V175h-3ZM281 174h3V178h-3ZM286 177h3V202h-3ZM304 176h3V188h-3ZM309 187h3V195h-3ZM318 187h3V202h-3ZM327 187h3V193h-3ZM332 192h3V195h-3ZM336 194h3V207h-3ZM341 206h3V211h-3ZM345 210h3V212h-3ZM373 163h3V172h-3ZM382 154h3V165h-3ZM387 164h3V187h-3ZM391 186h3V203h-3ZM400 200h3V205h-3ZM409 194h3V209h-3ZM419 204h3V205h-3ZM428 197h3V205h-3ZM432 204h3V207h-3ZM441 190h3V194h-3ZM455 175h3V179h-3ZM473 168h3V175h-3ZM483 158h3V168h-3ZM492 158h3V163h-3ZM496 162h3V163h-3ZM501 162h3V170h-3ZM528 130h3V135h-3ZM533 134h3V151h-3ZM537 150h3V154h-3ZM551 147h3V157h-3ZM556 156h3V172h-3ZM560 171h3V175h-3ZM569 159h3V163h-3ZM574 162h3V175h-3ZM579 174h3V185h-3ZM588 175h3V198h-3ZM597 189h3V194h-3ZM601 193h3V196h-3ZM606 195h3V207h-3ZM624 168h3V175h-3ZM629 174h3V180h-3ZM642 174h3V176h-3ZM652 173h3V181h-3ZM670 172h3V186h-3ZM674 185h3V198h-3ZM684 193h3V203h-3ZM693 196h3V248h-3ZM697 248h3V302h-3ZM702 301h3V321h-3ZM706 320h3V332h-3ZM716 311h3V343h-3ZM720 342h3V372h-3ZM725 371h3V377h-3ZM729 376h3V380h-3ZM743 342h3V345h-3ZM752 340h3V344h-3ZM757 343h3V344h-3ZM770 332h3V336h-3ZM780 324h3V328h-3ZM789 281h3V289h-3ZM793 288h3V298h-3ZM802 283h3V296h-3ZM807 295h3V303h-3ZM812 302h3V308h-3ZM816 307h3V322h-3ZM821 321h3V327h-3ZM825 326h3V346h-3ZM844 316h3V324h-3ZM857 270h3V278h-3ZM862 277h3V288h-3ZM871 276h3V280h-3ZM876 279h3V286h-3ZM880 285h3V293h-3ZM894 279h3V299h-3ZM898 298h3V340h-3ZM907 330h3V350h-3ZM912 349h3V354h-3ZM921 352h3V361h-3ZM926 360h3V367h-3ZM935 356h3V372h-3ZM962 319h3V332h-3ZM981 322h3V332h-3ZM990 330h3V345h-3ZM994 344h3V350h-3ZM1003 344h3V369h-3ZM1008 368h3V418h-3ZM1017 402h3V428h-3ZM1022 427h3V429h-3ZM1026 428h3V435h-3ZM1031 434h3V441h-3Z" fill="#eb4d5c"/>
<rect x="0" y="239" width="1168" height="1" fill="#000"/>
<rect x="0" y="397" width="1168" height="1" fill="#000"/>
<path d="M0 440.5H1168" stroke="#eb4d5c" stroke-width="1" stroke-dasharray="2 1"/>
<path d="M1 511.5H1167M1 610.5H1167" stroke="#554a5e" stroke-width="1" stroke-dasharray="6 5"/>
<polyline points="-0.0,505.8 4.5,510.7 9.1,513.4 13.7,508.6 18.2,498.2 22.8,494.9 27.4,488.3 31.9,491.8 36.5,506.9 41.1,540.7 45.6,560.6 50.2,573.8 54.8,578.7 59.4,596.8 63.9,584.4 68.5,587.9 73.1,583.3 77.6,584.8 82.2,559.8 86.8,550.3 91.3,568.3 95.9,587.0 100.5,593.4 105.0,588.3 109.6,582.6 114.2,565.6 118.8,552.9 123.3,545.5 127.9,547.9 132.5,548.7 137.0,544.3 141.6,535.9 146.2,528.9 150.7,521.1 155.3,522.0 159.9,534.0 164.4,553.4 169.0,569.8 173.6,575.6 178.2,590.6 182.7,592.0 187.3,583.7 191.9,558.8 196.4,559.6 201.0,570.9 205.6,580.8 210.1,572.1 214.7,553.2 219.3,547.8 223.8,549.5 228.4,554.6 233.0,555.9 237.6,560.7 242.1,569.0 246.7,582.4 251.3,598.8 255.8,613.9 260.4,617.6 265.0,616.6 269.5,618.5 274.1,621.7 278.7,622.7 283.2,623.4 287.8,626.3 292.4,623.8 297.0,612.3 301.5,597.7 306.1,592.7 310.7,599.0 315.2,603.1 319.8,611.2 324.4,605.2 328.9,607.0 333.5,598.1 338.1,605.8 342.6,612.9 347.2,623.3 351.8,625.8 356.4,612.9 360.9,571.7 365.5,535.9 370.1,502.8 374.6,506.5 379.2,495.6 383.8,508.3 388.3,525.4 392.9,566.5 397.5,592.3 402.0,606.4 406.6,601.2 411.2,606.8 415.8,606.4 420.3,613.4 424.9,605.5 429.5,605.7 434.0,606.4 438.6,602.3 443.2,595.9 447.7,571.5 452.3,540.9 456.9,515.5 461.4,505.5 466.0,509.7 470.6,502.5 475.2,503.9 479.7,495.6 484.3,502.0 488.9,493.1 493.4,507.6 498.0,513.0 502.6,537.6 507.1,541.9 511.7,547.7 516.3,534.2 520.9,528.8 525.4,514.3 530.0,510.8 534.6,519.2 539.1,535.3 543.7,546.1 548.3,544.2 552.8,546.9 557.4,561.9 562.0,580.6 566.5,582.4 571.1,576.6 575.7,587.3 580.3,612.3 584.8,626.4 589.4,627.7 594.0,613.9 598.5,610.0 603.1,602.1 607.7,612.2 612.2,600.7 616.8,578.2 621.4,544.0 625.9,534.9 630.5,539.3 635.1,544.9 639.7,537.8 644.2,527.3 648.8,518.7 653.4,524.8 657.9,529.4 662.5,532.6 667.1,524.7 671.6,532.4 676.2,565.3 680.8,594.2 685.3,616.0 689.9,607.1 694.5,617.0 699.1,623.0 703.6,634.1 708.2,633.7 712.8,622.7 717.3,625.2 721.9,628.1 726.5,637.4 731.0,637.4 735.6,632.0 740.2,621.2 744.7,610.2 749.3,604.0 753.9,603.7 758.5,598.5 763.0,577.3 767.6,555.1 772.2,539.7 776.7,531.8 781.3,520.9 785.9,501.4 790.4,495.5 795.0,497.4 799.6,500.2 804.1,507.3 808.7,515.8 813.3,534.2 817.9,555.9 822.4,577.5 827.0,608.9 831.6,623.1 836.1,623.9 840.7,600.0 845.3,586.5 849.8,574.2 854.4,555.0 859.0,535.7 863.5,527.8 868.1,531.2 872.7,531.6 877.3,530.1 881.8,539.1 886.4,542.4 891.0,539.2 895.5,541.9 900.1,575.2 904.7,606.2 909.2,631.4 913.8,626.5 918.4,623.9 922.9,621.4 927.5,622.9 932.1,621.9 936.7,625.0 941.2,621.6 945.8,618.3 950.4,601.6 954.9,582.5 959.5,557.5 964.1,534.2 968.6,519.2 973.2,510.5 977.8,501.4 982.4,503.5 986.9,510.1 991.5,533.4 996.1,550.5 1000.6,565.9 1005.2,585.4 1009.8,605.8 1014.3,615.0 1018.9,618.3 1023.5,616.3 1028.0,630.5 1032.6,634.0" fill="none" stroke="#ff6a1a" stroke-width="1.2" shape-rendering="auto" stroke-linejoin="round"/>
<polyline points="-0.0,517.0 4.5,520.6 9.1,502.6 13.7,502.6 18.2,489.5 22.8,492.7 27.4,482.6 31.9,500.1 36.5,538.0 41.1,584.0 45.6,559.7 50.2,577.7 54.8,598.8 59.4,613.8 63.9,540.7 68.5,609.1 73.1,600.1 77.6,545.2 82.2,534.1 86.8,571.6 91.3,599.3 95.9,590.1 100.5,590.9 105.0,584.0 109.6,572.9 114.2,539.9 118.8,546.0 123.3,550.5 127.9,547.3 132.5,548.4 137.0,537.3 141.6,522.0 146.2,527.3 150.7,514.1 155.3,524.6 159.9,563.4 164.4,572.1 169.0,573.9 173.6,580.8 178.2,617.0 182.7,578.3 187.3,555.9 191.9,542.2 196.4,580.8 201.0,589.6 205.6,572.1 210.1,554.6 214.7,532.9 219.3,555.9 223.8,559.6 228.4,548.4 233.0,559.6 237.6,574.1 242.1,573.4 246.7,599.6 251.3,623.3 255.8,618.8 260.4,610.8 265.0,620.3 269.5,624.5 274.1,620.3 278.7,623.3 283.2,626.5 287.8,629.0 292.4,615.8 297.0,592.1 301.5,585.3 306.1,600.8 310.7,610.8 315.2,597.8 319.8,625.0 324.4,592.8 328.9,603.3 333.5,598.3 338.1,615.8 342.6,624.5 347.2,629.5 351.8,623.3 356.4,585.8 360.9,506.0 365.5,515.9 370.1,486.5 374.6,517.2 379.2,483.0 383.8,524.7 388.3,568.4 392.9,606.3 397.5,602.1 402.0,610.8 406.6,590.8 411.2,618.8 415.8,609.5 420.3,612.0 424.9,595.1 429.5,610.0 434.0,614.0 438.6,582.8 443.2,590.8 447.7,540.9 452.3,491.0 456.9,514.7 461.4,510.9 466.0,503.5 470.6,493.0 475.2,515.2 479.7,478.5 484.3,512.2 488.9,488.5 493.4,522.2 498.0,528.4 502.6,562.1 507.1,535.2 511.7,545.9 516.3,521.4 520.9,519.2 525.4,502.2 530.0,510.9 534.6,544.6 539.1,550.4 543.7,543.4 548.3,538.9 552.8,558.4 557.4,588.3 562.0,595.1 566.5,563.9 571.1,570.9 575.7,627.0 580.3,639.0 584.8,613.3 589.4,630.8 594.0,597.6 598.5,601.6 603.1,607.1 607.7,627.8 612.2,567.1 616.8,539.7 621.4,525.2 625.9,539.7 630.5,552.9 635.1,542.2 639.7,518.4 644.2,521.4 648.8,516.4 653.4,536.7 657.9,535.2 662.5,525.9 667.1,512.9 671.6,558.4 676.2,624.5 680.8,599.6 685.3,624.0 689.9,597.6 694.5,629.5 699.1,642.0 703.6,630.8 708.2,628.3 712.8,609.1 717.3,638.3 721.9,637.0 726.5,637.0 731.0,638.3 735.6,620.8 740.2,604.6 744.7,605.3 749.3,602.1 753.9,603.8 758.5,589.6 763.0,538.4 767.6,537.2 772.2,543.4 776.7,514.7 781.3,504.7 785.9,484.7 790.4,497.2 795.0,510.4 799.6,493.0 804.1,518.4 808.7,535.9 813.3,548.4 817.9,583.3 822.4,600.8 827.0,642.7 831.6,625.8 836.1,603.3 840.7,570.9 845.3,585.3 849.8,566.4 854.4,513.4 859.0,527.2 863.5,542.9 868.1,523.4 872.7,528.4 877.3,538.4 881.8,550.4 886.4,538.4 891.0,528.9 895.5,558.4 900.1,638.3 904.7,622.0 909.2,633.8 913.8,623.8 918.4,614.0 922.9,626.5 927.5,628.3 932.1,610.8 936.7,635.8 941.2,618.3 945.8,600.8 950.4,585.8 954.9,560.9 959.5,525.9 964.1,515.9 968.6,515.9 973.2,499.7 977.8,488.5 982.4,522.2 986.9,519.7 991.5,558.4 996.1,573.4 1000.6,565.9 1005.2,617.0 1009.8,634.5 1014.3,593.4 1018.9,627.1 1023.5,628.3 1028.0,636.1 1032.6,637.5" fill="none" stroke="#2b8cf7" stroke-width="1.2" shape-rendering="auto" stroke-linejoin="round"/>
<rect x="0" y="469" width="1225" height="1" fill="#555"/>
<rect x="0" y="653" width="1169" height="1" fill="#555"/>
<rect x="1168" y="0" width="1" height="654" fill="#555"/>
<path d="M1169 17.5h3M1169 49.5h3M1169 81.5h3M1169 112.5h3M1169 144.5h3M1169 176.5h3M1169 207.5h3M1169 239.5h3M1169 271.5h3M1169 302.5h3M1169 334.5h3M1169 366.5h3M1169 397.5h3M1169 429.5h3M1169 461.5h3M1169 478.5h3M1169 511.5h3M1169 544.5h3M1169 577.5h3M1169 610.5h3M1169 643.5h3M5.5 654v3M110.5 654v3M215.5 654v3M320.5 654v3M425.5 654v3M530.5 654v3M635.5 654v3M740.5 654v3M846.5 654v3M951.5 654v3M1060.5 654v3" stroke="#555" fill="none"/>
<rect x="0" y="0" width="1" height="694" fill="#d4d5d9"/>
<rect x="1" y="672" width="1224" height="22" fill="#e7e7e9"/>
<rect x="0" y="694" width="1225" height="7" fill="#eff1f4"/>
<rect x="1033" y="698.6" width="156" height="3" fill="#38a2ea" shape-rendering="auto"/>
<rect x="1190" y="698.6" width="35" height="3" fill="#38a2ea" shape-rendering="auto"/>
<rect x="1224" y="0" width="1" height="694" fill="#d9dadc"/>
<path d="M39.5 676v14M78.5 676v14M119.5 676v14M160.5 676v14M201.5 676v14M249.5 676v14M288.5 676v14M327.5 676v14M367.5 676v14M1013.5 676v14M1057.5 676v14M1091.5 676v14M1133.5 676v14M1183.5 676v14" stroke="#c3c3c8" fill="none"/>
<rect x="1169" y="232" width="43" height="16" fill="#000"/>
<rect x="1169" y="390" width="43" height="16" fill="#000"/>
<rect x="1169" y="433" width="43" height="16" fill="#eb4d5c"/>
<rect x="1178" y="450" width="34" height="16" fill="#eb4d5c"/>
<path d="M1169 239.5h3M1169 397.5h3M1169 440.5h3" stroke="#fff" fill="none"/>
</svg>
<div class="t ax" style="top:12.6px">17.700</div>
<div class="t ax" style="top:44.6px">17.600</div>
<div class="t ax" style="top:76.6px">17.500</div>
<div class="t ax" style="top:107.6px">17.400</div>
<div class="t ax" style="top:139.6px">17.300</div>
<div class="t ax" style="top:171.6px">17.200</div>
<div class="t ax" style="top:202.6px">17.100</div>
<div class="t ax" style="top:266.6px">16.900</div>
<div class="t ax" style="top:297.6px">16.800</div>
<div class="t ax" style="top:329.6px">16.700</div>
<div class="t ax" style="top:361.6px">16.600</div>
<div class="t ax" style="top:424.6px">16.400</div>
<div class="t ax" style="top:473.6px">100.0000</div>
<div class="t ax" style="top:506.6px">80.0000</div>
<div class="t ax" style="top:539.6px">60.0000</div>
<div class="t ax" style="top:572.6px">40.0000</div>
<div class="t ax" style="top:605.6px">20.0000</div>
<div class="t ax" style="top:638.6px">0.0000</div>
<div class="t axw" style="top:234.6px">17.000</div>
<div class="t axw" style="top:392.6px">16.500</div>
<div class="t axw" style="top:435.6px">16.366</div>
<div class="t axw" style="top:452.6px;left:1181px">51:10</div>
<div class="t ax" style="top:456.6px;width:2px;overflow:hidden">16.300</div>
<div style="position:absolute;left:1px;top:654px;width:1167px;height:18px;overflow:hidden">
<div class="t tm" style="left:4.5px;top:5px">25</div>
<div class="t tm" style="left:109.5px;top:5px">26</div>
<div class="t tm" style="left:214.5px;top:5px">29</div>
<div class="t tm" style="left:319.5px;top:5px">30</div>
<div class="t tm" style="left:424.5px;top:5px">31</div>
<div class="t tm" style="left:529.5px;top:5px;font-weight:bold">Feb</div>
<div class="t tm" style="left:634.5px;top:5px">2</div>
<div class="t tm" style="left:739.5px;top:5px">5</div>
<div class="t tm" style="left:845.5px;top:5px">6</div>
<div class="t tm" style="left:950.5px;top:5px">7</div>
<div class="t tm" style="left:1059.5px;top:5px">8</div>
</div>
<div class="t tb" style="left:20.6px">1d</div>
<div class="t tb" style="left:59.5px">5d</div>
<div class="t tb" style="left:99.5px">1m</div>
<div class="t tb" style="left:140.5px">3m</div>
<div class="t tb" style="left:181.5px">6m</div>
<div class="t tb" style="left:226px">YTD</div>
<div class="t tb" style="left:269px">1y</div>
<div class="t tb" style="left:308px">5y</div>
<div class="t tb" style="left:348px">All</div>
<div class="t tb" style="left:400px">Go to...</div>
<div class="t tb" style="left:1036px">ext</div>
<div class="t tb" style="left:1075px">%</div>
<div class="t tb" style="left:1113px">log</div>
<div class="t tb" style="left:1159px;color:#4db2e6">auto</div>
<div class="t tb" style="left:962.3px;letter-spacing:-0.5px">18:08:49 (UTC)</div>
<svg class="t" style="left:1196px;top:675px" width="16" height="16" viewBox="0 0 16 16"><g fill="none" stroke="#777"><circle cx="8" cy="8" r="3.5" stroke-width="1.5"/><path d="M12.00 8.00L13.90 8.00M10.83 10.83L12.17 12.17M8.00 12.00L8.00 13.90M5.17 10.83L3.83 12.17M4.00 8.00L2.10 8.00M5.17 5.17L3.83 3.83M8.00 4.00L8.00 2.10M10.83 5.17L12.17 3.83" stroke-width="1.6"/></g></svg>
<svg class="t" style="left:6px;top:12px" width="13" height="13" viewBox="0 0 13 13"><rect x="0.5" y="0.5" width="12" height="12" rx="2" fill="#fff" stroke="#555"/><path d="M2.5 6.5h8" stroke="#555"/></svg>
<div class="t" style="left:25px;top:12px;font-size:16.5px;color:#4a4a4a;-webkit-text-stroke:0.3px #4a4a4a;letter-spacing:0.37px">Silver/U.S.</div>
<div class="t" style="left:111.8px;top:12px;font-size:16.5px;color:#4a4a4a;-webkit-text-stroke:0.3px #4a4a4a;letter-spacing:0.3px">Dollar,</div>
<div class="t" style="left:166.6px;top:12px;font-size:16.5px;color:#4a4a4a;-webkit-text-stroke:0.3px #4a4a4a">60,</div>
<div class="t" style="left:196px;top:12px;font-size:16.5px;color:#4a4a4a;-webkit-text-stroke:0.3px #4a4a4a;transform:scaleX(0.87);transform-origin:0 0">FXCM</div>
<svg class="t" style="left:241px;top:18px" width="8" height="4"><path d="M0 0h8l-4 4z" fill="#c2c2c2"/></svg>
<div class="ib" style="left:259px;top:14px"><svg width="14" height="14" viewBox="0 0 14 14"><path d="M1.8 7C3.1 4.1 5 2.7 7 2.7S10.9 4.1 12.2 7C10.9 9.9 9 11.3 7 11.3S3.1 9.9 1.8 7z" fill="#fff"/><circle cx="7" cy="7" r="2" fill="none" stroke="#d6d6d6" stroke-width="1.2"/></svg></div>
<div class="ib" style="left:276px;top:14px"><svg width="14" height="14" viewBox="0 0 14 14"><g stroke="#fff" stroke-width="2.2"><path d="M7 1.8v10.4M1.8 7h10.4M3.3 3.3l7.4 7.4M3.3 10.7l7.4-7.4"/></g><circle cx="7" cy="7" r="3.7" fill="#fff"/><circle cx="7" cy="7" r="1.9" fill="#d6d6d6"/></svg></div>
<div class="t" style="left:298px;top:13px;font-size:14.5px;color:#4a4a4a">O<span style="color:#eb4d5c;margin-left:2px">16.383</span></div>
<div class="t" style="left:366px;top:13px;font-size:14.5px;color:#4a4a4a">H<span style="color:#eb4d5c;margin-left:2px">16.393</span></div>
<div class="t" style="left:434px;top:13px;font-size:14.5px;color:#4a4a4a">L<span style="color:#eb4d5c;margin-left:2px">16.351</span></div>
<div class="t" style="left:500px;top:13px;font-size:14.5px;color:#4a4a4a">C<span style="color:#eb4d5c;margin-left:2px">16.366</span></div>
<div class="t" style="left:6px;top:35px;font-size:12px;color:#4a4a4a">Vol (20)</div>
<svg class="t" style="left:50px;top:39px" width="8" height="4"><path d="M0 0h8l-4 4z" fill="#c2c2c2"/></svg>
<div class="ib" style="left:68px;top:35px"><svg width="14" height="14" viewBox="0 0 14 14"><path d="M1.8 7C3.1 4.1 5 2.7 7 2.7S10.9 4.1 12.2 7C10.9 9.9 9 11.3 7 11.3S3.1 9.9 1.8 7z" fill="#fff"/><circle cx="7" cy="7" r="2" fill="none" stroke="#d6d6d6" stroke-width="1.2"/></svg></div>
<div class="ib" style="left:85px;top:35px"><svg width="14" height="14" viewBox="0 0 14 14"><g stroke="#fff" stroke-width="2.2"><path d="M7 1.8v10.4M1.8 7h10.4M3.3 3.3l7.4 7.4M3.3 10.7l7.4-7.4"/></g><circle cx="7" cy="7" r="3.7" fill="#fff"/><circle cx="7" cy="7" r="1.9" fill="#d6d6d6"/></svg></div>
<div class="ib" style="left:102px;top:35px"><svg width="14" height="14" viewBox="0 0 14 14"><path d="M7 3v8M3 7h8" stroke="#fff" stroke-width="2"/></svg></div>
<div class="ib" style="left:119px;top:35px"><svg width="14" height="14" viewBox="0 0 14 14"><path d="M2.8 2.8l8.4 8.4M2.8 11.2l8.4-8.4" stroke="#fff" stroke-width="1.9"/></svg></div>
<div class="t" style="left:141px;top:36px;font-size:12px;letter-spacing:-0.4px;color:#e8456a">1.096K</div>
<div class="t" style="left:186px;top:36px;font-size:12px;letter-spacing:-0.4px;color:#ff9850">3.966K</div>
<div class="t" style="left:6px;top:480px;font-size:12px;letter-spacing:0.19px;color:#4a4a4a">Stoch (14, 3, 1)</div>
<svg class="t" style="left:94px;top:483px" width="8" height="4"><path d="M0 0h8l-4 4z" fill="#c2c2c2"/></svg>
<div class="ib" style="left:112px;top:479px"><svg width="14" height="14" viewBox="0 0 14 14"><path d="M1.8 7C3.1 4.1 5 2.7 7 2.7S10.9 4.1 12.2 7C10.9 9.9 9 11.3 7 11.3S3.1 9.9 1.8 7z" fill="#fff"/><circle cx="7" cy="7" r="2" fill="none" stroke="#d6d6d6" stroke-width="1.2"/></svg></div>
<div class="ib" style="left:129px;top:479px"><svg width="14" height="14" viewBox="0 0 14 14"><g stroke="#fff" stroke-width="2.2"><path d="M7 1.8v10.4M1.8 7h10.4M3.3 3.3l7.4 7.4M3.3 10.7l7.4-7.4"/></g><circle cx="7" cy="7" r="3.7" fill="#fff"/><circle cx="7" cy="7" r="1.9" fill="#d6d6d6"/></svg></div>
<div class="ib" style="left:146px;top:479px"><svg width="14" height="14" viewBox="0 0 14 14"><path d="M7 3v8M3 7h8" stroke="#fff" stroke-width="2"/></svg></div>
<div class="ib" style="left:163px;top:479px"><svg width="14" height="14" viewBox="0 0 14 14"><path d="M2.8 2.8l8.4 8.4M2.8 11.2l8.4-8.4" stroke="#fff" stroke-width="1.9"/></svg></div>
<div class="t" style="left:185.6px;top:480.8px;font-size:12px;letter-spacing:-0.45px;color:#2196f3">3.6675</div>
<div class="t" style="left:229px;top:480.8px;font-size:12px;letter-spacing:-0.45px;color:#ff6d00">5.4742</div>
<svg class="t" style="left:1145px;top:9px" width="18" height="18" viewBox="0 0 18 18" ><circle cx="9" cy="9" r="7.3" fill="none" stroke="#f7935a" stroke-width="1.4"/><path d="M9 4.9v6M9 12.3v1.2" stroke="#f7935a" stroke-width="1.3"/></svg>
</body></html>
